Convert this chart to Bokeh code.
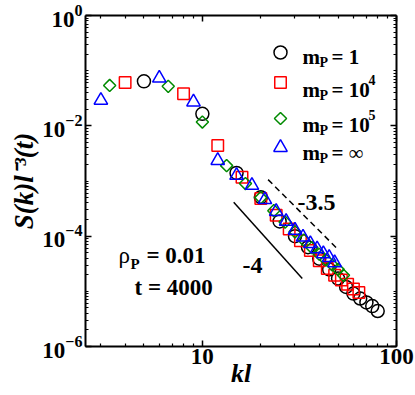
import math
from bokeh.plotting import figure
from bokeh.models import (FixedTicker, LogAxis, LogTickFormatter, PrintfTickFormatter, Label)
from bokeh.embed import file_html
from bokeh.resources import INLINE

# ---------------- data ----------------
kl_m1 = [5, 10, 15, 20, 25, 30, 35, 40, 45, 50, 55, 60, 65, 70, 75, 80]
S_m1 = [6.4e-2, 1.65e-2, 1.4e-3, 5.1e-4, 1.85e-4, 1.0e-4, 6.3e-5, 3.9e-5,
        2.5e-5, 1.7e-5, 1.2e-5, 9.1e-6, 7.4e-6, 6.3e-6, 5.4e-6, 4.4e-6]

kl_m1e4 = [4, 8, 12, 16, 20, 24, 28, 32, 36, 40, 44, 48, 52, 56, 60, 64]
S_m1e4 = [6.1e-2, 3.8e-2, 4.4e-3, 1.17e-3, 4.8e-4, 2.4e-4, 1.35e-4, 8.3e-5,
          5.5e-5, 3.6e-5, 2.6e-5, 1.95e-5, 1.6e-5, 1.35e-5, 1.1e-5, 9.5e-6]

kl_m1e5 = [3.33, 6.67, 10.0, 13.33, 16.67, 20.0, 23.33, 26.67, 30.0, 33.33,
           36.67, 40.0, 43.33, 46.67, 50.0, 53.33]
S_m1e5 = [5.4e-2, 5.2e-2, 1.17e-2, 1.9e-3, 9.0e-4, 5.0e-4, 2.9e-4, 1.8e-4,
          1.2e-4, 8.5e-5, 6.2e-5, 4.7e-5, 3.7e-5, 3.0e-5, 2.5e-5, 1.95e-5]

kl_minf = [3, 6, 9, 12, 15, 18, 21, 24, 27, 30, 33, 36, 39, 42, 45, 48]
S_minf = [2.9e-2, 7.3e-2, 2.7e-2, 2.35e-3, 1.26e-3, 8.3e-4, 4.6e-4, 2.8e-4,
          1.85e-4, 1.28e-4, 9.6e-5, 7.3e-5, 5.9e-5, 4.8e-5, 4.1e-5, 3.3e-5]

# guide lines (slopes -4 and -3.5)
guide4_x = [14.5, 32.7]
guide4_y = [4.1e-4, 1.7e-5]
guide35_x = [21.8, 49.6]
guide35_y = [1.06e-3, 5.9e-5]

x_major = [10, 100]
x_minor = [3, 4, 5, 6, 7, 8, 9, 20, 30, 40, 50, 60, 70, 80, 90]
y_major = [1e-6, 1e-4, 1e-2, 1]
y_minor = [m * 10.0 ** e for e in range(-6, 0) for m in range(1, 10)]

X0, X1 = 2.5, 100
Y0, Y1 = 1e-6, 1

# ---------------- figure ----------------
W, H = 415, 395
ML, MR, MT, MB = 85, 19, 15, 49
p = figure(width=W, height=H, x_axis_type="log", y_axis_type="log",
           x_range=(X0, X1), y_range=(Y0, Y1),
           output_backend="svg", toolbar_location=None,
           min_border_left=ML, min_border_right=MR,
           min_border_top=MT, min_border_bottom=MB)
p.outline_line_color = None
p.xgrid.visible = False
p.ygrid.visible = False
p.background_fill_color = "white"
p.border_fill_color = "white"

FONT = "Liberation Serif"

def style_axis(ax, show_labels):
    ax.axis_line_width = 2
    ax.axis_line_color = "black"
    ax.major_tick_in = 6
    ax.major_tick_out = 0
    ax.minor_tick_in = 3
    ax.minor_tick_out = 0
    ax.major_tick_line_width = 1.5
    ax.minor_tick_line_width = 1.2
    ax.major_tick_line_color = "black"
    ax.minor_tick_line_color = "black"
    if show_labels:
        ax.major_label_text_font = FONT
        ax.major_label_text_font_style = "bold"
        ax.major_label_text_font_size = "23px"
        ax.major_label_text_color = "black"
        ax.axis_label_text_font = FONT
        ax.axis_label_text_font_style = "bold italic"
        ax.axis_label_text_color = "black"
    else:
        ax.major_label_text_font_size = "0px"
        ax.major_label_text_color = None
        ax.major_label_standoff = 0

xb = p.xaxis[0]
xb.ticker = FixedTicker(ticks=x_major, minor_ticks=x_minor)
xb.formatter = PrintfTickFormatter(format="%d")
style_axis(xb, True)
xb.major_label_standoff = 2
xb.axis_label = "kl"
xb.axis_label_text_font_size = "26px"
xb.axis_label_standoff = -8

yl = p.yaxis[0]
yl.ticker = FixedTicker(ticks=y_major, minor_ticks=y_minor)
yl.formatter = LogTickFormatter()
style_axis(yl, True)
yl.major_label_standoff = 3
yl.axis_label = "S(k)l\u207b\u00b3(t)"
yl.axis_label_text_font_size = "27px"
yl.axis_label_standoff = 0

xt = LogAxis(ticker=FixedTicker(ticks=x_major, minor_ticks=x_minor))
style_axis(xt, False)
p.add_layout(xt, "above")
yr = LogAxis(ticker=FixedTicker(ticks=y_major, minor_ticks=y_minor))
style_axis(yr, False)
p.add_layout(yr, "right")

# ---------------- data marks ----------------
LW = 1.5
p.scatter(kl_m1, S_m1, marker="circle", size=13, fill_color=None,
          line_color="black", line_width=LW)
p.scatter(kl_m1e4, S_m1e4, marker="square", size=11.5, fill_color=None,
          line_color="#ff0000", line_width=LW)
p.scatter(kl_m1e5, S_m1e5, marker="square", size=8.6, angle=math.pi / 4,
          fill_color=None, line_color="#008a00", line_width=LW)
p.scatter(kl_minf, S_minf, marker="triangle", size=13.5, fill_color=None,
          line_color="#0000ff", line_width=LW)

p.line(guide4_x, guide4_y, line_color="black", line_width=1.5)
p.line(guide35_x, guide35_y, line_color="black", line_width=1.5, line_dash="6 4")

# ---------------- annotations (positions given in page pixels) ----------------
PL, PT = ML, MT                       # frame left/top on the page
DX = (W - ML - MR) / (math.log10(X1) - math.log10(X0))
DY = (H - MT - MB) / (math.log10(Y1) - math.log10(Y0))

def dat(xp, yp):
    return (10 ** (math.log10(X0) + (xp - PL) / DX),
            10 ** (math.log10(Y1) - (yp - PT) / DY))

def txt(s, xp, yp, size, style="bold"):
    x, y = dat(xp, yp)
    p.add_layout(Label(x=x, y=y, text=s, text_font=FONT, text_font_size=f"{size}px",
                       text_font_style=style, text_color="black",
                       text_align="left", text_baseline="alphabetic"))

# legend
leg_mark_y = [52, 82, 118, 147]
leg_base_y = [56, 89, 124, 152]
leg_rest = ["= 1", "= 10", "= 10", "= "]
leg_sup = [None, "4", "5", None]
leg_specs = [("circle", 13, 0.0, "black"), ("square", 11.5, 0.0, "#ff0000"),
             ("square", 8.6, math.pi / 4, "#008a00"), ("triangle", 13.5, 0.0, "#0000ff")]
for i, (mk, sz, ang, col) in enumerate(leg_specs):
    lx, ly = dat(280, leg_mark_y[i])
    p.scatter([lx], [ly], marker=mk, size=sz, angle=ang, fill_color=None,
              line_color=col, line_width=LW)
    b = leg_base_y[i]
    txt("m", 302, b, 21)
    txt("P", 319, b + 6, 14)
    txt(leg_rest[i], 331, b, 21)
    if leg_sup[i]:
        txt(leg_sup[i], 368, b - 10, 14)
    if i == 3:
        txt("\u221e", 348, b, 21, style="normal")

# rho and t
txt("\u03c1", 118, 255, 23, style="normal")
txt("P", 130, 263, 15)
txt("= 0.01", 146, 255, 23)
txt("t = 4000", 134, 287, 23)

# slope labels
txt("-3.5", 297, 202, 24)
txt("-4", 242, 265, 24)

open("out.html", "w").write(file_html(p, INLINE))
